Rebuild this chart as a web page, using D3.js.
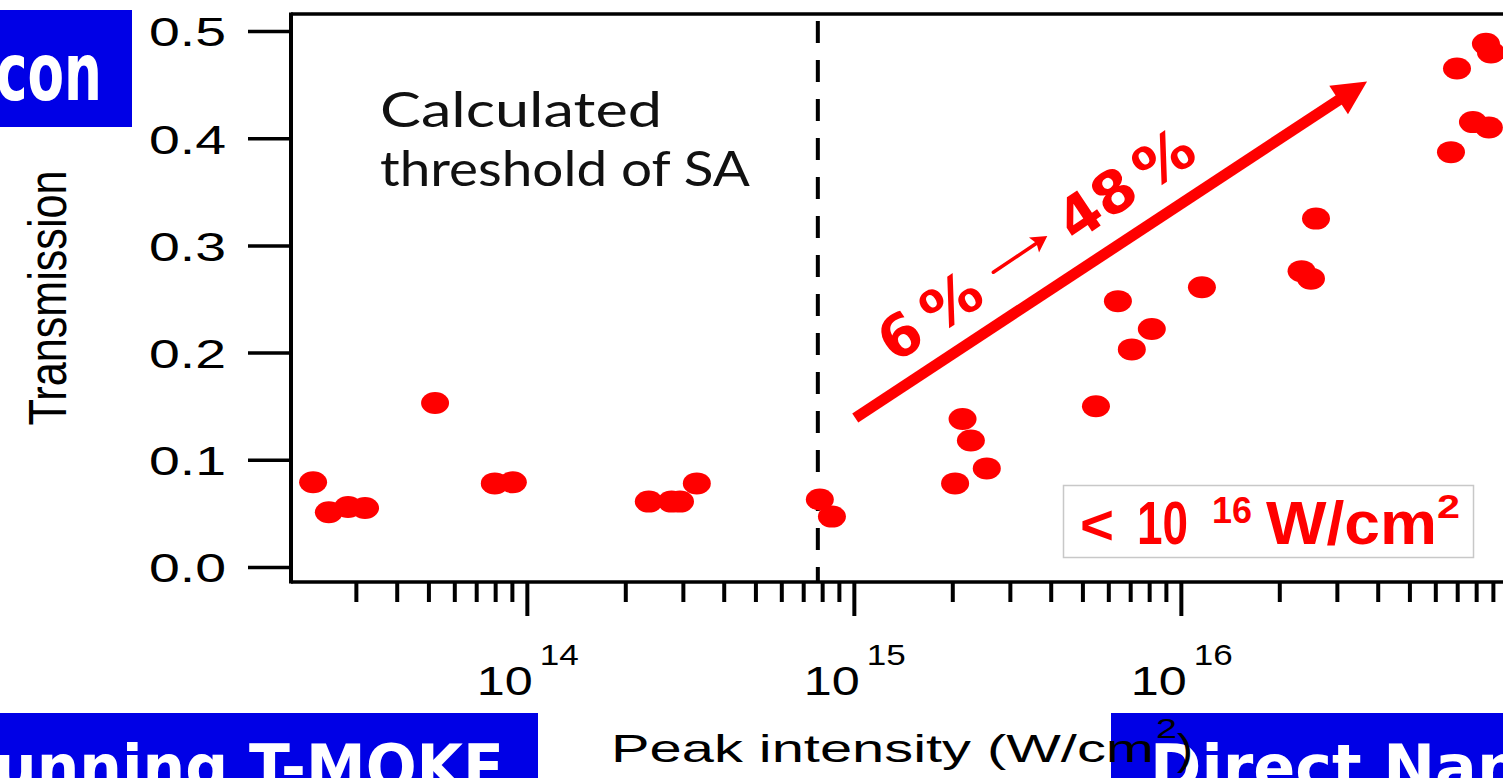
<!DOCTYPE html>
<html>
<head>
<meta charset="utf-8">
<script src="https://cdn.jsdelivr.net/npm/d3@7"></script>
<style>
  html, body { margin: 0; padding: 0; background: #fff; overflow: hidden; }
  svg { display: block; }
</style>
</head>
<body>
<script>
// ---------------- DATA ----------------
const intensity = [2.22e13, 2.48e13, 2.84e13, 3.2e13, 5.24e13, 7.98e13, 9.06e13,
  2.36e14, 2.77e14, 2.94e14, 3.31e14, 7.87e14, 8.57e14,
  2.04e15, 2.15e15, 2.28e15, 2.55e15, 5.50e15, 6.42e15, 7.08e15, 8.15e15,
  1.16e16, 2.34e16, 2.50e16, 2.59e16, 6.70e16, 6.99e16, 7.82e16, 8.75e16, 8.57e16, 8.88e16];
const transmission = [0.079, 0.051, 0.056, 0.055, 0.153, 0.078, 0.079,
  0.061, 0.061, 0.061, 0.078, 0.063, 0.047,
  0.078, 0.138, 0.118, 0.092, 0.150, 0.248, 0.203, 0.222,
  0.261, 0.276, 0.269, 0.325, 0.387, 0.465, 0.415, 0.410, 0.488, 0.480];
const yTicks = [0.0, 0.1, 0.2, 0.3, 0.4, 0.5];
const xMajorTicks = [1e14, 1e15, 1e16];
const xMajorExp = ["14", "15", "16"];
const xMinorTicks = [3e13,4e13,5e13,6e13,7e13,8e13,9e13,
  2e14,3e14,4e14,5e14,6e14,7e14,8e14,9e14,
  2e15,3e15,4e15,5e15,6e15,7e15,8e15,9e15,
  2e16,3e16,4e16,5e16,6e16,7e16,8e16,9e16];
const thresholdSA = 7.76e14;
const trendArrow = [[1.01e15, 0.139], [3.71e16, 0.453]];

// ---------------- LAYOUT ----------------
const W = 1503, H = 778;
const plotL = 291, plotT = 14, plotB = 582;
const svg = d3.select("body").append("svg").attr("width", W).attr("height", H);

const x = d3.scaleLog().domain([1.9e13, 1.2e17]).range([plotL, plotL + 327 * Math.log10(1.2e17 / 1.9e13)]);
const y = d3.scaleLinear().domain([0, 0.5]).range([567, 31]);

const BLUE = "#0000E6";
const RED = "#FF0000";
const SANS = "'Liberation Sans', Arial, sans-serif";
const GEO = "'DejaVu Sans', sans-serif";

// ---------------- BLUE BANNERS ----------------
svg.append("rect").attr("x", 0).attr("y", 10).attr("width", 132).attr("height", 117).attr("fill", BLUE);
svg.append("text").attr("x", -4).attr("y", 100).attr("font-family", GEO).attr("font-weight", "bold")
  .attr("font-size", 80).attr("fill", "#fff").attr("textLength", 106).attr("lengthAdjust", "spacingAndGlyphs").text("con");

svg.append("rect").attr("x", 0).attr("y", 713).attr("width", 538).attr("height", 70).attr("fill", BLUE);
svg.append("text").attr("x", -6).attr("y", 789).attr("font-family", GEO).attr("font-weight", "bold")
  .attr("font-size", 62).attr("fill", "#fff").attr("textLength", 510).attr("lengthAdjust", "spacingAndGlyphs").text("unning T-MOKE");

svg.append("rect").attr("x", 1111).attr("y", 713).attr("width", 400).attr("height", 70).attr("fill", BLUE);
svg.append("text").attr("x", 1150).attr("y", 789).attr("font-family", GEO).attr("font-weight", "bold")
  .attr("font-size", 62).attr("fill", "#fff").attr("textLength", 371).attr("lengthAdjust", "spacingAndGlyphs").text("Direct Nan");

// ---------------- AXES ----------------
const gx = svg.append("g").attr("transform", `translate(0,${plotB})`);
gx.append("g").call(d3.axisBottom(x).tickValues(xMinorTicks).tickSize(20).tickFormat(""))
  .call(g => g.select(".domain").remove())
  .call(g => g.selectAll("line").attr("stroke", "#000").attr("stroke-width", 4));
gx.append("g").call(d3.axisBottom(x).tickValues(xMajorTicks).tickSize(34).tickFormat(""))
  .call(g => g.select(".domain").remove())
  .call(g => g.selectAll("line").attr("stroke", "#000").attr("stroke-width", 4));

const gy = svg.append("g").attr("transform", `translate(${plotL},0)`);
gy.call(d3.axisLeft(y).tickValues(yTicks).tickSize(43).tickPadding(22).tickFormat(d3.format(".1f")))
  .call(g => g.select(".domain").remove())
  .call(g => g.selectAll("line").attr("stroke", "#000").attr("stroke-width", 3.5))
  .call(g => g.selectAll("text").attr("font-family", SANS).attr("font-size", 40).attr("fill", "#000")
    .attr("dy", "0.37em").attr("textLength", 77).attr("lengthAdjust", "spacingAndGlyphs"));

// frame lines
svg.append("line").attr("x1", plotL).attr("x2", W + 10).attr("y1", plotB).attr("y2", plotB).attr("stroke", "#000").attr("stroke-width", 3.5);
svg.append("line").attr("x1", plotL).attr("x2", plotL).attr("y1", plotT - 1.5).attr("y2", plotB + 1.5).attr("stroke", "#000").attr("stroke-width", 4);
svg.append("line").attr("x1", plotL).attr("x2", W + 10).attr("y1", plotT).attr("y2", plotT).attr("stroke", "#000").attr("stroke-width", 3.5);

// major tick labels 10^n
const lab = svg.append("g");
xMajorTicks.forEach((v, i) => {
  const px = x(v);
  lab.append("text").attr("x", px - 50).attr("y", 695).attr("font-family", SANS).attr("font-size", 41)
    .attr("textLength", 56).attr("lengthAdjust", "spacingAndGlyphs").text("10");
  lab.append("text").attr("x", px + 13).attr("y", 665).attr("font-family", SANS).attr("font-size", 30)
    .attr("textLength", 39).attr("lengthAdjust", "spacingAndGlyphs").text(xMajorExp[i]);
});

// y axis title
svg.append("g").attr("transform", "translate(66,298) scale(1.3,1) rotate(-90)")
  .append("text").attr("text-anchor", "middle").attr("font-family", SANS).attr("font-size", 41)
  .attr("textLength", 255).attr("lengthAdjust", "spacingAndGlyphs").text("Transmission");

// ---------------- THRESHOLD LINE ----------------
svg.append("line").attr("x1", x(thresholdSA)).attr("x2", x(thresholdSA)).attr("y1", 21).attr("y2", plotB)
  .attr("stroke", "#000").attr("stroke-width", 4).attr("stroke-dasharray", "22,17");

svg.append("text").attr("x", 380).attr("y", 127).attr("font-family", "Lato, 'DejaVu Sans', sans-serif")
  .attr("font-size", 48).attr("fill", "#111").attr("textLength", 282).attr("lengthAdjust", "spacingAndGlyphs").text("Calculated");
svg.append("text").attr("x", 380).attr("y", 186).attr("font-family", "Lato, 'DejaVu Sans', sans-serif")
  .attr("font-size", 48).attr("fill", "#111").attr("textLength", 370).attr("lengthAdjust", "spacingAndGlyphs").text("threshold of SA");

// ---------------- DATA POINTS ----------------
svg.append("g").selectAll("ellipse").data(d3.range(intensity.length)).join("ellipse")
  .attr("cx", i => x(intensity[i])).attr("cy", i => y(transmission[i]))
  .attr("rx", 14).attr("ry", 11).attr("fill", RED);

// ---------------- TREND ARROW ----------------
const [p0, p1] = trendArrow.map(d => [x(d[0]), y(d[1])]);
const ang = Math.atan2(p1[1] - p0[1], p1[0] - p0[0]);
const headL = 34, headW = 17;
const ux = Math.cos(ang), uy = Math.sin(ang);
const base = [p1[0] - ux * headL, p1[1] - uy * headL];
svg.append("line").attr("x1", p0[0]).attr("y1", p0[1]).attr("x2", base[0] + ux * 4).attr("y2", base[1] + uy * 4)
  .attr("stroke", RED).attr("stroke-width", 11);
svg.append("polygon").attr("fill", RED).attr("points", [
  p1, [base[0] - uy * headW, base[1] + ux * headW], [base[0] + uy * headW, base[1] - ux * headW]
].map(p => p.join(",")).join(" "));

// rotated "6 % -> 48 %" label
const rg = svg.append("g").attr("transform", "translate(893,365) rotate(-33.9)")
  .attr("font-family", GEO).attr("font-weight", "bold").attr("font-size", 58).attr("fill", RED);
rg.append("text").attr("x", 2).attr("y", 0).attr("textLength", 40).attr("lengthAdjust", "spacingAndGlyphs").text("6");
rg.append("text").attr("x", 54).attr("y", 0).attr("textLength", 60).attr("lengthAdjust", "spacingAndGlyphs").text("%");
rg.append("text").attr("x", 218).attr("y", 0).attr("textLength", 82).attr("lengthAdjust", "spacingAndGlyphs").text("48");
rg.append("text").attr("x", 310).attr("y", 0).attr("textLength", 60).attr("lengthAdjust", "spacingAndGlyphs").text("%");
rg.append("line").attr("x1", 135).attr("y1", -21).attr("x2", 192).attr("y2", -21)
  .attr("stroke", RED).attr("stroke-width", 3.5).attr("stroke-linecap", "round");
rg.append("polygon").attr("points", "200,-21 184,-30 187,-21 184,-12").attr("fill", RED);

// ---------------- RANGE LABEL ----------------
svg.append("rect").attr("x", 1063.5).attr("y", 485.5).attr("width", 410).attr("height", 72)
  .attr("fill", "#fff").attr("stroke", "#c8c8c8").attr("stroke-width", 1.5);
const rl = svg.append("g").attr("font-family", SANS).attr("font-weight", "bold").attr("fill", RED);
rl.append("text").attr("x", 1080).attr("y", 544).attr("font-size", 56).attr("textLength", 34).attr("lengthAdjust", "spacingAndGlyphs").text("<");
rl.append("text").attr("x", 1137).attr("y", 544).attr("font-size", 61).attr("textLength", 51).attr("lengthAdjust", "spacingAndGlyphs").text("10");
rl.append("text").attr("x", 1212).attr("y", 523).attr("font-size", 37).attr("textLength", 40).attr("lengthAdjust", "spacingAndGlyphs").text("16");
rl.append("text").attr("x", 1266).attr("y", 544).attr("font-size", 61).attr("textLength", 171).attr("lengthAdjust", "spacingAndGlyphs").text("W/cm");
rl.append("text").attr("x", 1437).attr("y", 518).attr("font-size", 33).attr("textLength", 23).attr("lengthAdjust", "spacingAndGlyphs").text("2");

// x axis title (drawn last: overlaps the blue banner, as in the original)
svg.append("text").attr("x", 611).attr("y", 762).attr("font-family", SANS).attr("font-size", 38)
  .attr("textLength", 543).attr("lengthAdjust", "spacingAndGlyphs").text("Peak intensity (W/cm");
svg.append("text").attr("x", 1156).attr("y", 738).attr("font-family", SANS).attr("font-size", 28)
  .attr("textLength", 21).attr("lengthAdjust", "spacingAndGlyphs").text("2");
svg.append("text").attr("x", 1177).attr("y", 764).attr("font-family", SANS).attr("font-size", 42)
  .attr("textLength", 16).attr("lengthAdjust", "spacingAndGlyphs").text(")");
</script>
</body>
</html>
